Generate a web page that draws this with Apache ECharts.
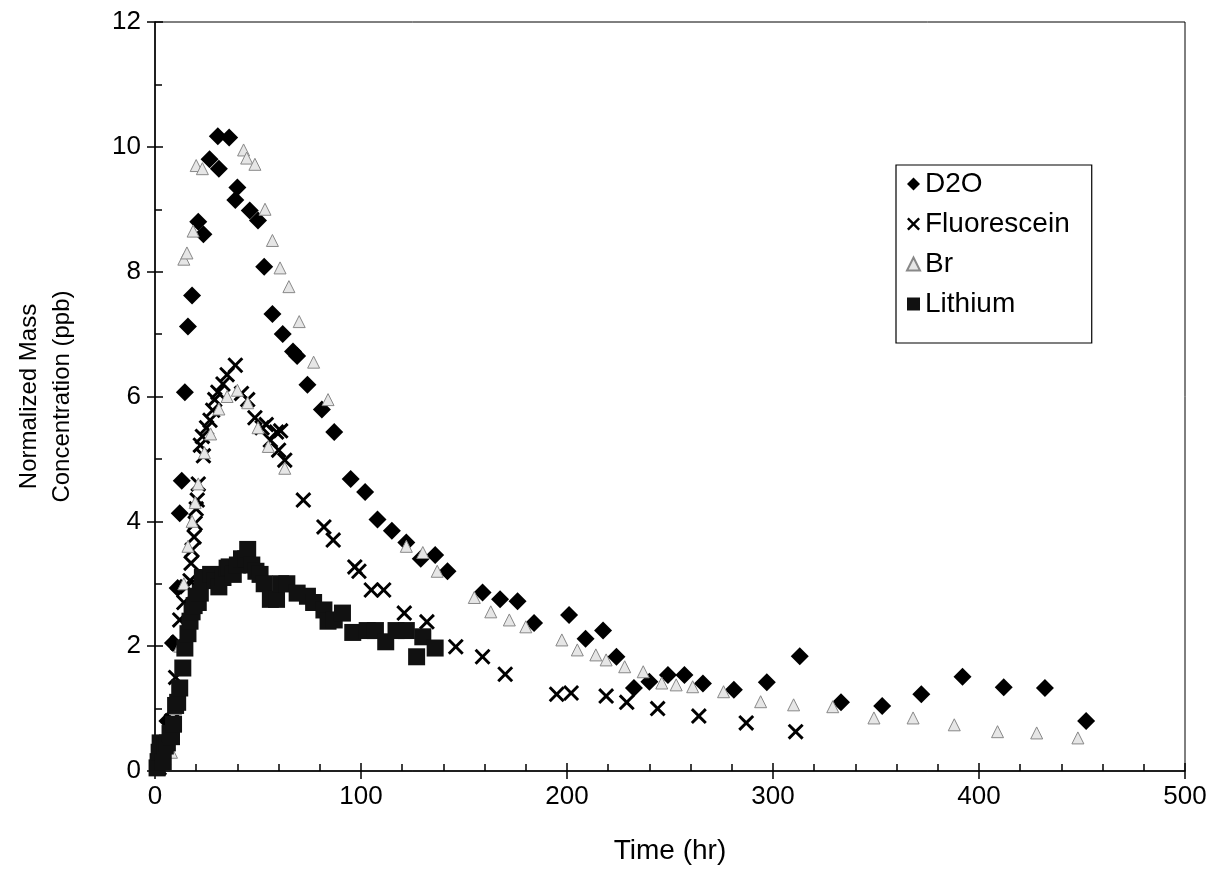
<!DOCTYPE html>
<html>
<head>
<meta charset="utf-8">
<script src="https://cdn.jsdelivr.net/npm/echarts@6/dist/echarts.min.js"></script>
<style>
html,body{margin:0;padding:0;background:#fff;}
#chart{width:1217px;height:890px;}
</style>
</head>
<body>
<div id="chart"></div>
<script>
// ---- data: [time (hr), normalized mass concentration (ppb)] ----
const d2o = [[3,0.2],[6,0.8],[8.7,2.05],[11,2.93],[12,4.13],[13,4.65],[14.5,6.07],[16,7.12],[18,7.62],[21,8.8],[23.5,8.6],[26.5,9.8],[31,9.65],[30.5,10.17],[36,10.15],[40,9.35],[39,9.15],[46,8.98],[50,8.82],[53,8.08],[57,7.32],[62,7.0],[67,6.72],[69,6.65],[74,6.19],[81,5.79],[87,5.43],[95,4.68],[102,4.47],[108,4.03],[115,3.85],[122,3.66],[129,3.4],[136,3.46],[142,3.2],[159,2.86],[167.5,2.75],[176,2.72],[184,2.37],[201,2.5],[209,2.12],[217.5,2.25],[224,1.83],[232.5,1.33],[240,1.43],[249,1.54],[257,1.54],[266,1.4],[281,1.3],[297,1.42],[313,1.84],[333,1.1],[353,1.04],[372,1.23],[392,1.51],[412,1.34],[432,1.33],[452,0.8]];
const fluorescein = [[2,0.05],[4,0.2],[6,0.45],[8,0.8],[10,1.5],[11,2.05],[12,2.42],[14,2.7],[15.5,2.95],[17,3.05],[17.5,3.33],[18,3.54],[19,3.75],[19.5,3.97],[20,4.2],[20.5,4.34],[21,4.6],[22,5.22],[23,5.36],[23.5,5.05],[25,5.5],[26.7,5.62],[28,5.78],[29,5.95],[30.5,6.07],[33,6.2],[35,6.35],[39,6.5],[42,6.05],[45,5.95],[48.5,5.66],[52,5.5],[54,5.55],[56,5.3],[59,5.43],[60,5.14],[61,5.45],[63,4.98],[72,4.34],[82,3.91],[86.5,3.7],[97,3.27],[99,3.2],[105,2.9],[111,2.9],[121,2.53],[132,2.39],[146,1.99],[159,1.83],[170,1.55],[195,1.23],[202,1.25],[219,1.2],[229,1.1],[244,1.0],[264,0.88],[287,0.77],[311,0.63]];
const br = [[8,0.3],[10,1.0],[12,2.0],[14,3.0],[16,3.6],[18,4.0],[19.5,4.3],[21,4.6],[24,5.1],[27,5.4],[31,5.8],[35,6.0],[40,6.1],[45,5.9],[50,5.5],[55,5.2],[63,4.85],[14,8.2],[15.5,8.3],[18.5,8.65],[20,9.7],[23,9.65],[43,9.95],[44.5,9.82],[48.5,9.72],[53.4,9.0],[57,8.5],[60.7,8.06],[65,7.76],[70,7.2],[77,6.55],[84,5.95],[122,3.6],[130,3.5],[137,3.2],[155,2.78],[163,2.55],[172,2.42],[180,2.31],[197.5,2.1],[205,1.94],[214,1.86],[219,1.78],[228,1.67],[237,1.59],[246,1.41],[253,1.38],[261,1.35],[276,1.27],[294,1.11],[310,1.06],[329,1.03],[349,0.85],[368,0.85],[388,0.74],[409,0.63],[428,0.61],[448,0.53]];
const lithium = [[1,0.05],[1.5,0.15],[2,0.3],[2.5,0.45],[4,0.15],[5,0.4],[6,0.45],[7.3,0.6],[8,0.55],[9,0.75],[10,1.05],[11,1.1],[12,1.33],[13.5,1.65],[14.5,1.97],[16,2.2],[17,2.4],[18,2.55],[19,2.65],[20,2.8],[21,2.7],[22,2.85],[23,3.1],[25,3.1],[27,3.15],[29,3.05],[31,2.95],[33,3.1],[35,3.25],[36,3.27],[38,3.15],[40,3.3],[42,3.4],[44,3.4],[45,3.55],[47,3.3],[49,3.2],[51,3.15],[53,3.0],[56,2.75],[59,2.75],[61,3.0],[64,3.0],[69,2.85],[74,2.8],[77,2.7],[82,2.58],[84,2.4],[87,2.42],[91,2.53],[96,2.22],[103,2.25],[107,2.25],[112,2.07],[117,2.25],[122,2.25],[127,1.83],[130,2.15],[136,1.97]];
const seriesNames = ['D2O','Fluorescein','Br','Lithium'];
const xTitle = 'Time (hr)';
const yTitle = 'Normalized Mass\nConcentration (ppb)';

const FONT = 'Liberation Sans, Arial, sans-serif';
const X_PATH = 'path://M0,1.3L1.3,0L5,3.7L8.7,0L10,1.3L6.3,5L10,8.7L8.7,10L5,6.3L1.3,10L0,8.7L3.7,5Z';

const chart = echarts.init(document.getElementById('chart'));
const axisLabelStyle = {color:'#000', fontFamily:FONT, fontSize:26};
const lineStyle = {color:'#000', width:1.5};
chart.setOption({
  backgroundColor:'#fff',
  animation:false,
  grid:{left:155, top:22, right:32, bottom:119, show:true, borderColor:'#000', borderWidth:1},
  legend:{
    orient:'vertical', left:896, top:165,
    data:seriesNames,
    backgroundColor:'#fff', borderColor:'#000', borderWidth:1.2,
    padding:[5,22,25,10], itemGap:12, itemWidth:13, itemHeight:13,
    textStyle:{color:'#000', fontFamily:FONT, fontSize:28, lineHeight:26}
  },
  xAxis:[
    {type:'value', min:0, max:500, interval:100, position:'bottom',
     axisLine:{show:true, lineStyle}, axisTick:{show:true, inside:false, length:8, lineStyle},
     axisLabel:Object.assign({margin:13}, axisLabelStyle), splitLine:{show:false},
     name:xTitle, nameLocation:'middle', nameGap:66, nameTextStyle:{color:'#000', fontFamily:FONT, fontSize:28}},
    {type:'value', min:0, max:500, interval:100, position:'bottom', offset:0,
     axisLine:{show:false}, axisTick:{show:true, inside:true, length:8, lineStyle},
     minorTick:{show:true, splitNumber:5, length:7, lineStyle:{color:'#000', width:1.5}},
     axisLabel:{show:false}, splitLine:{show:false}}
  ],
  yAxis:[
    {type:'value', min:0, max:12, interval:2, position:'left',
     axisLine:{show:true, lineStyle}, axisTick:{show:true, inside:false, length:8, lineStyle},
     axisLabel:Object.assign({margin:14}, axisLabelStyle), splitLine:{show:false},
     name:yTitle, nameLocation:'middle', nameGap:76, nameRotate:90,
     nameTextStyle:{color:'#000', fontFamily:FONT, fontSize:24, lineHeight:33, align:'center'}},
    {type:'value', min:0, max:12, interval:2, position:'left', offset:0,
     axisLine:{show:false}, axisTick:{show:true, inside:true, length:8, lineStyle},
     minorTick:{show:true, splitNumber:2, length:7, lineStyle:{color:'#000', width:1.5}},
     axisLabel:{show:false}, splitLine:{show:false}}
  ],
  series:[
    {name:'D2O', type:'scatter', data:d2o, symbol:'diamond', symbolSize:18,
     itemStyle:{color:'#000', opacity:1}},
    {name:'Fluorescein', type:'scatter', data:fluorescein, symbol:X_PATH, symbolSize:16,
     itemStyle:{color:'#000', opacity:1}},
    {name:'Br', type:'scatter', data:br, symbol:'triangle', symbolSize:12,
     itemStyle:{color:'#e6e6e6', borderColor:'#888', borderWidth:1, opacity:1}},
    {name:'Lithium', type:'scatter', data:lithium, symbol:'rect', symbolSize:17,
     itemStyle:{color:'#111', opacity:1}}
  ]
});
</script>
</body>
</html>
